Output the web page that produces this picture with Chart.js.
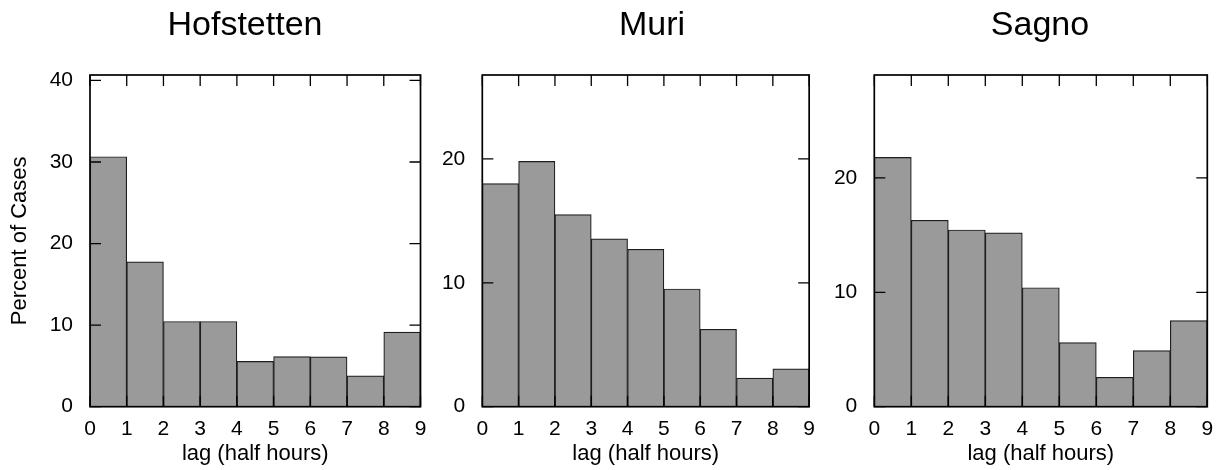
<!DOCTYPE html>
<html>
<head>
<meta charset="utf-8">
<script src="https://cdn.jsdelivr.net/npm/chart.js@4/dist/chart.umd.min.js"></script>
<style>
  html, body { margin: 0; padding: 0; background: #fff; }
  #wrap { position: relative; width: 1224px; height: 470px; overflow: hidden; }
  .panel { position: absolute; top: 0; height: 470px; }
  .panel canvas { display: block; }
</style>
</head>
<body>
<div id="wrap">
  <div class="panel" id="p1" style="left:0px;width:440px;"><canvas id="c1"></canvas></div>
  <div class="panel" id="p2" style="left:440px;width:385px;"><canvas id="c2"></canvas></div>
  <div class="panel" id="p3" style="left:825px;width:399px;"><canvas id="c3"></canvas></div>
</div>
<script>
// ---- data ----
const panelTitles = ["Hofstetten", "Muri", "Sagno"];
const binStarts = [0, 1, 2, 3, 4, 5, 6, 7, 8];
const xTickValues = [0, 1, 2, 3, 4, 5, 6, 7, 8, 9];
const hofstettenValues = [30.65, 17.75, 10.45, 10.45, 5.55, 6.15, 6.1, 3.78, 9.15];
const muriValues = [18.0, 19.8, 15.5, 13.55, 12.7, 9.5, 6.25, 2.3, 3.05];
const sagnoValues = [21.8, 16.3, 15.45, 15.2, 10.4, 5.6, 2.57, 4.9, 7.53];
const yMaxes = [40.67, 26.77, 29.0];
const yTickStep = 10;
const xAxisTitle = "lag (half hours)";
const yAxisTitle = "Percent of Cases";

const FONT = "'Liberation Sans', Arial, Helvetica, sans-serif";
Chart.defaults.font.family = FONT;
Chart.defaults.color = '#000';

const framePlugin = {
  id: 'frameTicks',
  afterDatasetsDraw(chart) {
    const { ctx, chartArea: a, scales } = chart;
    const x = scales.x, y = scales.y;
    const len = 11;
    ctx.save();
    ctx.strokeStyle = '#000';
    ctx.lineWidth = 1.3;
    ctx.beginPath();
    x.ticks.forEach(t => {
      const px = x.getPixelForValue(t.value);
      ctx.moveTo(px, a.bottom); ctx.lineTo(px, a.bottom - len);
      ctx.moveTo(px, a.top); ctx.lineTo(px, a.top + len);
    });
    y.ticks.forEach(t => {
      const py = y.getPixelForValue(t.value);
      ctx.moveTo(a.left, py); ctx.lineTo(a.left + len, py);
      ctx.moveTo(a.right, py); ctx.lineTo(a.right - len, py);
    });
    ctx.stroke();
    ctx.lineWidth = 1.7;
    ctx.strokeRect(a.left, a.top, a.right - a.left, a.bottom - a.top);
    ctx.restore();
  },
  afterDraw(chart, args, opts) {
    const { ctx } = chart;
    ctx.save();
    ctx.font = '34px ' + FONT;
    ctx.fillStyle = '#000';
    ctx.textAlign = 'center';
    ctx.textBaseline = 'alphabetic';
    ctx.fillText(opts.text, opts.cx, opts.baseline);
    ctx.restore();
  }
};

function makeChart(canvasId, values, yMax, title, cfg) {
  const data = binStarts.map((s, i) => ({ x: s + 0.5, y: values[i] }));
  return new Chart(document.getElementById(canvasId), {
    type: 'bar',
    data: {
      datasets: [{
        data: data,
        backgroundColor: '#9a9a9a',
        borderColor: '#1e1e1e',
        borderWidth: 1.2,
        barPercentage: 1.0,
        categoryPercentage: 1.0
      }]
    },
    options: {
      responsive: true,
      maintainAspectRatio: false,
      animation: false,
      events: [],
      layout: { padding: { top: 75, right: cfg.padRight, left: 0, bottom: 0 } },
      plugins: {
        legend: { display: false },
        tooltip: { enabled: false },
        frameTicks: { text: title, cx: cfg.titleX, baseline: 35 }
      },
      scales: {
        x: {
          type: 'linear',
          min: 0, max: 9,
          offset: false,
          afterBuildTicks: (s) => { s.ticks = xTickValues.map(v => ({ value: v })); },
          ticks: { font: { size: 21 }, padding: 10, maxRotation: 0, autoSkip: false },
          grid: { display: false, drawTicks: false },
          border: { display: false },
          title: { display: true, text: xAxisTitle, font: { size: 22 }, padding: { top: 4, bottom: 3 } },
          afterFit: (s) => { s.height = 63.3; }
        },
        y: {
          type: 'linear',
          min: 0, max: yMax,
          ticks: { stepSize: yTickStep, includeBounds: false, font: { size: 21 }, padding: 17 },
          grid: { display: false, drawTicks: false },
          border: { display: false },
          title: { display: cfg.showYTitle, text: yAxisTitle, font: { size: 22 }, padding: { top: 7, bottom: 4 } },
          afterFit: (s) => { s.width = cfg.yWidth; }
        }
      }
    },
    plugins: [framePlugin]
  });
}

makeChart('c1', hofstettenValues, yMaxes[0], panelTitles[0], { padRight: 19.5, yWidth: 90, titleX: 245, showYTitle: true });
makeChart('c2', muriValues, yMaxes[1], panelTitles[1], { padRight: 11, yWidth: 42.3, titleX: 212, showYTitle: false });
makeChart('c3', sagnoValues, yMaxes[2], panelTitles[2], { padRight: 16.7, yWidth: 49.3, titleX: 215, showYTitle: false });
</script>
</body>
</html>
